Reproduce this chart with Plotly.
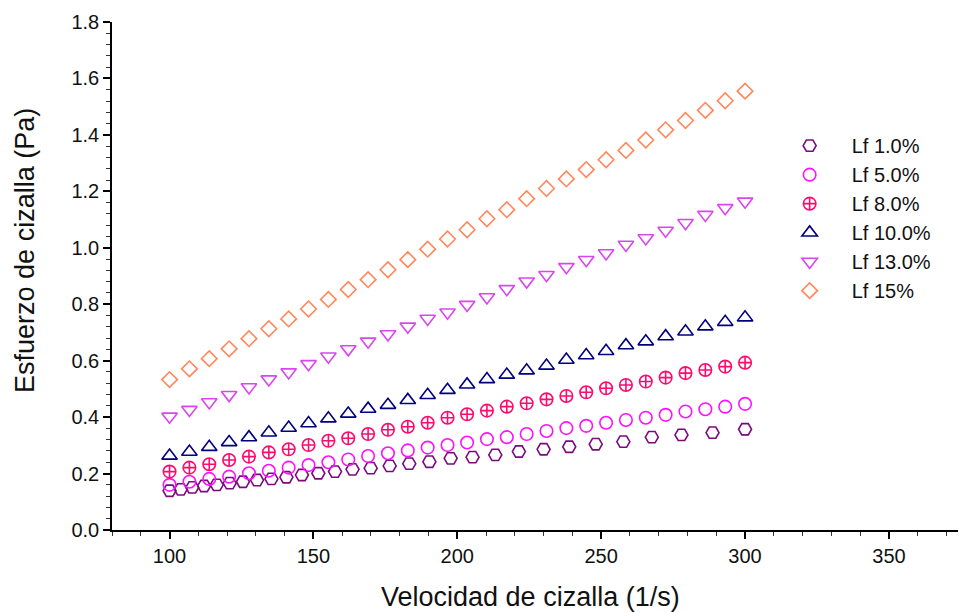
import plotly.graph_objects as go

# Shear rate (1/s) grids
x_lin = [100.0, 106.9, 113.8, 120.7, 127.6, 134.5, 141.4, 148.3, 155.2, 162.1,
         169.0, 175.9, 182.8, 189.7, 196.6, 203.4, 210.3, 217.2, 224.1, 231.0,
         237.9, 244.8, 251.7, 258.6, 265.5, 272.4, 279.3, 286.2, 293.1, 300.0]
x_log = [100.0, 103.9, 107.9, 112.0, 116.4, 120.9, 125.5, 130.4, 135.4, 140.6,
         146.0, 151.7, 157.5, 163.6, 169.9, 176.5, 183.3, 190.3, 197.7, 205.3,
         213.2, 221.4, 230.0, 238.9, 248.1, 257.7, 267.6, 277.9, 288.7, 300.0]

# Shear stress (Pa)
lf1 = [0.139, 0.144, 0.151, 0.156, 0.160, 0.166, 0.171, 0.177, 0.181, 0.187,
       0.195, 0.201, 0.207, 0.215, 0.219, 0.227, 0.235, 0.242, 0.254, 0.258,
       0.266, 0.278, 0.286, 0.295, 0.304, 0.313, 0.329, 0.337, 0.345, 0.357]
lf5 = [0.160, 0.171, 0.181, 0.189, 0.201, 0.210, 0.221, 0.230, 0.240, 0.250,
       0.262, 0.272, 0.282, 0.292, 0.301, 0.310, 0.322, 0.329, 0.340, 0.351,
       0.361, 0.369, 0.380, 0.390, 0.398, 0.408, 0.420, 0.428, 0.437, 0.447]
lf8 = [0.207, 0.221, 0.233, 0.248, 0.260, 0.275, 0.286, 0.301, 0.316, 0.325,
       0.340, 0.355, 0.366, 0.380, 0.398, 0.410, 0.423, 0.437, 0.449, 0.463,
       0.475, 0.488, 0.502, 0.514, 0.526, 0.540, 0.556, 0.567, 0.579, 0.593]
lf10 = [0.263, 0.277, 0.294, 0.311, 0.328, 0.345, 0.362, 0.378, 0.395, 0.412,
        0.429, 0.443, 0.460, 0.478, 0.496, 0.515, 0.534, 0.550, 0.565, 0.582,
        0.603, 0.619, 0.634, 0.654, 0.668, 0.686, 0.703, 0.721, 0.737, 0.753]
lf13 = [0.402, 0.426, 0.453, 0.479, 0.506, 0.534, 0.559, 0.588, 0.615, 0.641,
        0.668, 0.694, 0.721, 0.749, 0.771, 0.798, 0.825, 0.854, 0.881, 0.904,
        0.932, 0.957, 0.981, 1.011, 1.034, 1.061, 1.088, 1.117, 1.141, 1.164]
lf15 = [0.533, 0.571, 0.607, 0.642, 0.678, 0.713, 0.748, 0.783, 0.817, 0.852,
        0.887, 0.922, 0.958, 0.995, 1.031, 1.064, 1.103, 1.135, 1.174, 1.210,
        1.244, 1.277, 1.312, 1.345, 1.382, 1.418, 1.451, 1.487, 1.521, 1.555]

names = ["Lf 1.0%", "Lf 5.0%", "Lf 8.0%", "Lf 10.0%", "Lf 13.0%", "Lf 15%"]
xs = [x_log, x_lin, x_lin, x_lin, x_lin, x_lin]
ys = [lf1, lf5, lf8, lf10, lf13, lf15]
symbols = ["hexagon2-open", "circle-open", "circle-cross-open",
           "triangle-up-open", "triangle-down-open", "diamond-open"]
colors = ["#7B0A80", "#FF10FF", "#FF0A6E", "#000080", "#D946EF", "#FF875A"]
sizes = [13, 12.5, 12.5, 13.5, 13.5, 12]

FONT = "Liberation Sans, Arial, sans-serif"

fig = go.Figure()
for n, x, y, s, c, sz in zip(names, xs, ys, symbols, colors, sizes):
    fig.add_trace(go.Scatter(
        x=x, y=y, mode="markers", name=n,
        marker=dict(symbol=s, size=sz, color=c, line=dict(color=c, width=1.6)),
    ))

axis_common = dict(
    showline=True, linecolor="black", linewidth=1.5,
    ticks="outside", ticklen=7, tickwidth=1.5, tickcolor="black",
    showgrid=False, zeroline=False, mirror=False,
    tickfont=dict(family=FONT, size=20, color="#111"),
)

fig.update_layout(
    width=959, height=612,
    margin=dict(l=112, r=1, t=22, b=82),
    paper_bgcolor="white", plot_bgcolor="white",
    font=dict(family=FONT, color="#111"),
    showlegend=True,
    legend=dict(x=0.775, y=0.795, xanchor="left", yanchor="top",
                itemwidth=74,
                font=dict(family=FONT, size=20, color="#111"),
                bgcolor="rgba(0,0,0,0)", tracegroupgap=0),
    xaxis=dict(range=[80, 374], tick0=0, dtick=50,
               minor=dict(dtick=10, ticks="outside", ticklen=4,
                          tickwidth=1.2, tickcolor="#333"),
               **axis_common),
    yaxis=dict(range=[0, 1.8], tick0=0, dtick=0.2, tickformat=".1f",
               minor=dict(dtick=0.04, ticks="outside", ticklen=4,
                          tickwidth=1.2, tickcolor="#333"),
               **axis_common),
    annotations=[
        dict(text="Velocidad de cizalla (1/s)", xref="paper", yref="paper",
             x=0.495, y=-0.132, xanchor="center", yanchor="middle",
             showarrow=False, font=dict(family=FONT, size=27, color="#111")),
        dict(text="Esfuerzo de cizalla (Pa)", xref="paper", yref="paper",
             x=-0.103, y=0.551, xanchor="center", yanchor="middle",
             textangle=-90, showarrow=False,
             font=dict(family=FONT, size=27, color="#111")),
    ],
)

fig.write_html("out.html")
